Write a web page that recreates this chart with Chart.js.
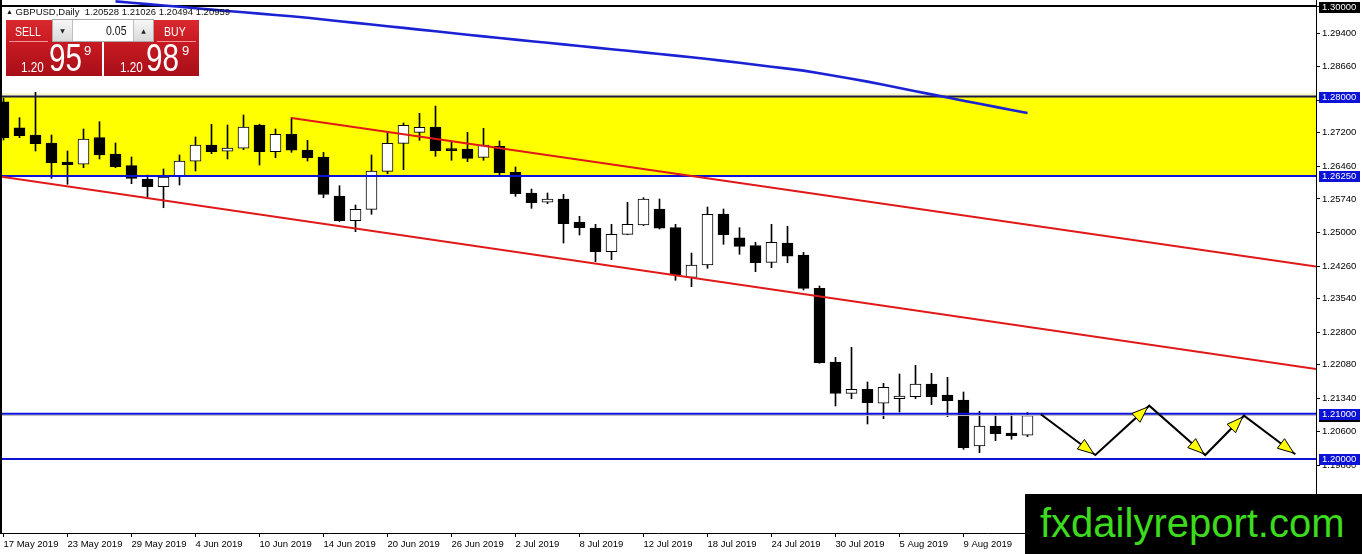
<!DOCTYPE html>
<html>
<head>
<meta charset="utf-8">
<title>GBPUSD,Daily</title>
<script src="https://cdn.jsdelivr.net/npm/chart.js@4.4.1/dist/chart.umd.min.js"></script>
<style>
html,body{margin:0;padding:0;background:#fff;overflow:hidden;}
#wrap{position:relative;width:1362px;height:554px;overflow:hidden;}
#c{position:absolute;left:0;top:0;}
.ov{position:absolute;white-space:pre;line-height:1;font-family:"Liberation Sans",Arial,sans-serif;}
.nr{transform:scaleX(0.78);transform-origin:0 0;}
#hdr{left:6px;top:7px;font-size:9.5px;color:#111;}
#hdr .tri{font-size:7px;position:relative;top:-1px;}
.panel{position:absolute;top:20px;height:56px;background:linear-gradient(#d92830,#c81a22 40%,#a80f18);}
.sep{position:absolute;height:1px;background:rgba(255,190,190,0.75);top:21px;}
.w{color:#fff;}
#spin{position:absolute;left:52px;top:19px;width:100px;height:21px;background:#fff;border:1px solid #a9a9a9;}
.sb{position:absolute;top:0;width:19px;height:21px;background:linear-gradient(#f7f7f7,#dadada);font-size:6px;color:#222;text-align:center;line-height:21px;font-family:"DejaVu Sans",sans-serif;}
#logo{position:absolute;left:1025px;top:494px;width:337px;height:60px;background:#000;}
</style>
</head>
<body>
<div id="wrap">
<canvas id="c" width="1362" height="554"></canvas>

<div class="ov" id="hdr"><span class="tri">▲</span> GBPUSD,Daily  1.20528 1.21026 1.20494 1.20959</div>

<div class="panel" style="left:6px;width:96px;">
  <div class="sep" style="left:3px;width:39px;"></div>
</div>
<div class="panel" style="left:104px;width:95px;">
  <div class="sep" style="left:53px;width:39px;"></div>
</div>
<div class="ov nr w" style="left:15px;top:25px;font-size:13.5px;">SELL</div>
<div class="ov nr w" style="left:164px;top:25px;font-size:13.5px;">BUY</div>
<div id="spin">
  <div class="sb" style="left:0;border-right:1px solid #bdbdbd;">▼</div>
  <div class="sb" style="right:0;border-left:1px solid #bdbdbd;">▲</div>
</div>
<div class="ov nr" style="left:106px;top:24px;font-size:13.5px;color:#111;">0.05</div>

<div class="ov nr w" style="left:21px;top:58.5px;font-size:15px;">1.20</div>
<div class="ov nr w" style="left:49px;top:39px;font-size:38px;">95</div>
<div class="ov w" style="left:84px;top:44px;font-size:13px;">9</div>
<div class="ov nr w" style="left:120px;top:58.5px;font-size:15px;">1.20</div>
<div class="ov nr w" style="left:146px;top:39px;font-size:38px;">98</div>
<div class="ov w" style="left:182px;top:44px;font-size:13px;">9</div>

<div id="logo"></div>
<div class="ov" style="left:1040px;top:503px;font-size:40px;color:#3ddb1d;">fxdailyreport.com</div>
</div>

<script>
// ---------------- DATA ----------------
const dates = ['17 May 2019','20 May 2019','21 May 2019','22 May 2019','23 May 2019','24 May 2019','27 May 2019','28 May 2019',
'29 May 2019','30 May 2019','31 May 2019','3 Jun 2019','4 Jun 2019','5 Jun 2019','6 Jun 2019','7 Jun 2019',
'10 Jun 2019','11 Jun 2019','12 Jun 2019','13 Jun 2019','14 Jun 2019','17 Jun 2019','18 Jun 2019','19 Jun 2019',
'20 Jun 2019','21 Jun 2019','24 Jun 2019','25 Jun 2019','26 Jun 2019','27 Jun 2019','28 Jun 2019','1 Jul 2019',
'2 Jul 2019','3 Jul 2019','4 Jul 2019','5 Jul 2019','8 Jul 2019','9 Jul 2019','10 Jul 2019','11 Jul 2019',
'12 Jul 2019','15 Jul 2019','16 Jul 2019','17 Jul 2019','18 Jul 2019','19 Jul 2019','22 Jul 2019','23 Jul 2019',
'24 Jul 2019','25 Jul 2019','26 Jul 2019','29 Jul 2019','30 Jul 2019','31 Jul 2019','1 Aug 2019','2 Aug 2019',
'5 Aug 2019','6 Aug 2019','7 Aug 2019','8 Aug 2019','9 Aug 2019','12 Aug 2019','13 Aug 2019','14 Aug 2019','15 Aug 2019'];

const open = [1.27887,1.27313,1.27152,1.26976,1.26556,1.26506,1.27093,1.26733,1.26475,1.26181,1.26011,1.26241,1.26572,
1.26932,1.26793,1.26859,1.27373,1.26784,1.27168,1.26821,1.26667,1.25806,1.25260,1.25512,1.26351,1.26969,1.27212,
1.27329,1.26850,1.26843,1.26660,1.26903,1.26329,1.25872,1.25667,1.25740,1.25232,1.25099,1.24576,1.24960,1.25166,
1.25519,1.25106,1.24011,1.24283,1.25408,1.24885,1.24709,1.24342,1.24768,1.24503,1.23768,1.22141,1.21450,1.21539,
1.21230,1.21331,1.21375,1.21656,1.21413,1.21302,1.20287,1.20728,1.20574,1.20528];

const high = [1.27969,1.27534,1.28095,1.27152,1.26799,1.27285,1.27446,1.26976,1.26667,1.26269,1.26402,1.26711,1.27108,
1.27389,1.27373,1.27594,1.27390,1.27285,1.27534,1.27035,1.26770,1.26033,1.25607,1.26711,1.27212,1.27417,1.27631,
1.27792,1.27004,1.27212,1.27300,1.27020,1.26446,1.25960,1.25872,1.25843,1.25358,1.25181,1.25181,1.25667,1.25768,
1.25740,1.25181,1.24547,1.25563,1.25519,1.25106,1.24784,1.25181,1.25137,1.24563,1.23819,1.22245,1.22466,1.21700,
1.21671,1.21876,1.22068,1.21892,1.21803,1.21479,1.21053,1.20978,1.21009,1.21026];

const low = [1.27042,1.27093,1.26799,1.26196,1.26064,1.26431,1.26623,1.26431,1.26077,1.25784,1.25547,1.26049,1.26358,
1.26740,1.26623,1.26828,1.26490,1.26651,1.26770,1.26578,1.25768,1.25243,1.25018,1.25402,1.26298,1.26386,1.27035,
1.26682,1.26594,1.26563,1.26594,1.26269,1.25799,1.25534,1.25636,1.24768,1.24945,1.24355,1.24400,1.24950,1.25150,
1.25077,1.23945,1.23804,1.24210,1.24739,1.24519,1.24135,1.24223,1.24333,1.23731,1.22113,1.21170,1.21331,1.20773,
1.20890,1.21037,1.21331,1.21199,1.20934,1.20214,1.20139,1.20404,1.20435,1.20494];

const close = [1.27093,1.27137,1.26960,1.26541,1.26497,1.27064,1.26711,1.26453,1.26196,1.26011,1.26225,1.26578,1.26932,
1.26784,1.26865,1.27329,1.26784,1.27168,1.26815,1.26651,1.25843,1.25260,1.25512,1.26358,1.26969,1.27366,1.27322,
1.26806,1.26806,1.26638,1.26932,1.26320,1.25857,1.25658,1.25740,1.25194,1.25106,1.24576,1.24960,1.25181,1.25740,
1.25093,1.24062,1.24283,1.25402,1.24951,1.24695,1.24333,1.24784,1.24475,1.23768,1.22126,1.21450,1.21539,1.21243,
1.21583,1.21391,1.21656,1.21375,1.21287,1.20249,1.20728,1.20559,1.20514,1.20959];

// moving average (blue), one value per bar from bar maFirstBar on
const maFirstBar = 7;
const maValues = [1.30102,1.30071,1.30042,1.30011,1.29982,1.29951,1.29921,1.29890,1.29861,1.29832,1.29801,1.29773,
1.29740,1.29702,1.29664,1.29627,1.29592,1.29554,1.29517,1.29479,1.29441,1.29404,1.29366,1.29329,1.29294,1.29258,
1.29223,1.29188,1.29152,1.29117,1.29082,1.29046,1.29011,1.28976,1.28940,1.28905,1.28870,1.28830,1.28788,1.28746,
1.28702,1.28660,1.28618,1.28574,1.28514,1.28455,1.28393,1.28331,1.28260,1.28190,1.28119,1.28049,1.27978,1.27909,
1.27841,1.27773,1.27704,1.27638];

// horizontal levels
const roundLevel = 1.30000;
const zoneTop = 1.28000;
const zoneBottom = 1.26250;
const supportUpper = 1.21000;
const supportLower = 1.20000;
const bidPrice = 1.20959;

// channel trend lines (bar index, price)
const upperTrendX = [18, 82.03];
const upperTrendY = [1.27528, 1.24250];
const lowerTrendX = [-0.22, 82.03];
const lowerTrendY = [1.26236, 1.21987];

// projected zigzag path (bar index, price)
const zigX = [64.83, 68.24, 71.61, 75.11, 77.53, 80.74];
const zigY = [1.20987, 1.20088, 1.21177, 1.20088, 1.20956, 1.20104];

// axes
const yTickValues = [1.30000,1.29400,1.28660,1.27920,1.27200,1.26460,1.25740,1.25000,1.24260,1.23540,1.22800,1.22080,1.21340,1.20600,1.19860,1.19140];
const xTickBars = [0,4,8,12,16,20,24,28,32,36,40,44,48,52,56,60];
const yMin = 1.183665, yMax = 1.301325;
const xMin = -0.21875, xMax = 82.03125;

// ---------------- STYLE / BUILD ----------------
const FONT = '"Liberation Sans", Arial, sans-serif';
const BLUE = '#0c12d6';

function hline(v, color, width, order) {
  return {type:'line', data:[{x:xMin, y:v},{x:xMax, y:v}], borderColor:color, borderWidth:width,
          pointRadius:0, tension:0, order:order};
}

const wickData = dates.map((d,i)=>({x:i, y:[low[i], high[i]]}));
const bodyData = dates.map((d,i)=>({x:i, y:[open[i], close[i]]}));
const bodyFill = dates.map((d,i)=> close[i] >= open[i] ? '#ffffff' : '#000000');

const datasets = [
  {type:'line', data: maValues.map((v,k)=>({x:maFirstBar+k, y:v})), borderColor:'#1a22d4', borderWidth:2.6,
   pointRadius:0, tension:0, order:1},
  {type:'line', data: zigX.map((x,k)=>({x:x, y:zigY[k]})), borderColor:'#000', borderWidth:2,
   pointRadius:0, tension:0, order:2},
  {type:'line', data: upperTrendX.map((x,k)=>({x:x, y:upperTrendY[k]})), borderColor:'#e01818', borderWidth:2,
   pointRadius:0, tension:0, order:3},
  {type:'line', data: lowerTrendX.map((x,k)=>({x:x, y:lowerTrendY[k]})), borderColor:'#e01818', borderWidth:2,
   pointRadius:0, tension:0, order:3},
  hline(roundLevel, '#000000', 2, 4),
  hline(zoneTop, '#1c1c3c', 2, 4),
  hline(zoneBottom, BLUE, 2, 4),
  hline(supportUpper, BLUE, 2, 4),
  hline(supportLower, BLUE, 2, 4),
  hline(bidPrice, '#bdbdbd', 1, 5),
  {type:'bar', data: bodyData, backgroundColor: bodyFill, borderColor:'#000', borderWidth:1,
   borderSkipped:false, barThickness:11, grouped:false, order:8},
  {type:'bar', data: wickData, backgroundColor:'#000', borderWidth:0, barThickness:1, grouped:false, order:9}
];

const zonePlugin = {
  id:'zone',
  beforeDatasetsDraw(chart){
    const {ctx, chartArea:a, scales:{y}} = chart;
    const t = y.getPixelForValue(zoneTop), b = y.getPixelForValue(zoneBottom);
    ctx.save();
    ctx.fillStyle = '#ffff00';
    ctx.fillRect(a.left, t, a.right - a.left, b - t);
    ctx.fillStyle = '#f3eea0';
    ctx.fillRect(a.left, t - 3, a.right - a.left, 1);
    ctx.restore();
  }
};

const arrowPlugin = {
  id:'arrows',
  afterDatasetsDraw(chart){
    const meta = chart.getDatasetMeta(1);
    const pts = meta.data;
    const ctx = chart.ctx;
    ctx.save();
    for (let k = 1; k < pts.length; k++) {
      const x0 = pts[k-1].x, y0 = pts[k-1].y, x1 = pts[k].x, y1 = pts[k].y;
      const ang = Math.atan2(y1 - y0, x1 - x0);
      const c = Math.cos(ang), s = Math.sin(ang);
      const tx = x1 - c*2, ty = y1 - s*2;
      const bx = tx - c*16, by = ty - s*16;
      const px = -s*6, py = c*6;
      ctx.beginPath();
      ctx.moveTo(tx, ty); ctx.lineTo(bx+px, by+py); ctx.lineTo(bx-px, by-py); ctx.closePath();
      ctx.fillStyle = '#ffff00'; ctx.fill();
      ctx.strokeStyle = '#000'; ctx.lineWidth = 1; ctx.stroke();
    }
    ctx.restore();
  }
};

const boxPlugin = {
  id:'boxes',
  afterDraw(chart){
    const {ctx, chartArea:a, scales:{y}} = chart;
    ctx.save();
    ctx.fillStyle = '#000';
    ctx.fillRect(0, 0, 2, a.bottom);
    const boxes = [
      [roundLevel, '#000000'],
      [zoneTop, BLUE],
      [zoneBottom, BLUE],
      [bidPrice, '#000000'],
      [supportUpper, BLUE],
      [supportLower, BLUE]
    ];
    ctx.font = '9.5px ' + FONT;
    ctx.textAlign = 'left';
    ctx.textBaseline = 'middle';
    boxes.forEach(([v, bg])=>{
      let py = Math.round(y.getPixelForValue(v));
      if (v === roundLevel) py += 1;
      ctx.fillStyle = bg;
      ctx.fillRect(a.right + 3, py - 5, 41, 11);
      ctx.fillStyle = '#fff';
      ctx.fillText(v.toFixed(5), a.right + 6, py + 0.5);
    });
    ctx.restore();
  }
};

new Chart(document.getElementById('c'), {
  type:'bar',
  data:{datasets},
  options:{
    responsive:false,
    animation:false,
    events:[],
    layout:{padding:0},
    plugins:{legend:{display:false}, tooltip:{enabled:false}},
    scales:{
      x:{
        type:'linear', min:xMin, max:xMax, offset:false,
        position:'bottom',
        grid:{drawOnChartArea:false, offset:false, color:'#000', tickLength:4, tickWidth:1},
        border:{display:true, color:'#000', width:1},
        afterBuildTicks(scale){ scale.ticks = xTickBars.map(v=>({value:v})); },
        afterFit(scale){ scale.height = 21; scale.paddingLeft = 0; scale.paddingRight = 0; },
        ticks:{autoSkip:false, maxRotation:0, minRotation:0, align:'start', padding:2,
               color:'#000', font:{family:FONT, size:9.5},
               callback:(v)=> dates[v] || ''}
      },
      y:{
        type:'linear', min:yMin, max:yMax, position:'right',
        grid:{drawOnChartArea:false, color:'#000', tickLength:4, tickWidth:1},
        border:{display:true, color:'#000', width:1},
        afterBuildTicks(scale){ scale.ticks = yTickValues.map(v=>({value:v})); },
        afterFit(scale){ scale.width = 46; scale.paddingTop = 0; scale.paddingBottom = 0; },
        ticks:{padding:2, color:'#000', font:{family:FONT, size:9.5},
               callback:(v)=> Number(v).toFixed(5)}
      }
    }
  },
  plugins:[zonePlugin, arrowPlugin, boxPlugin]
});
</script>
</body>
</html>
